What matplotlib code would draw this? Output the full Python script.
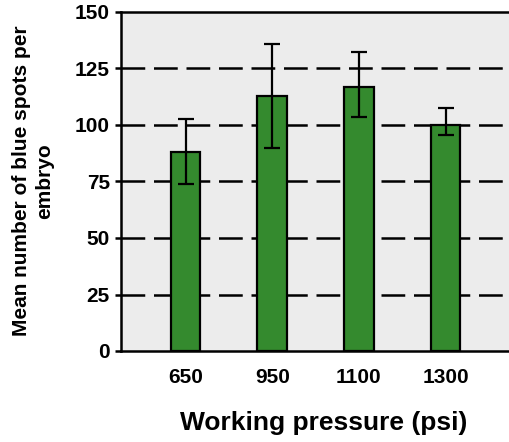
#! /usr/bin/env python3
# Bar chart: mean blue spots per embryo vs working pressure, with error bars
import numpy as np
import matplotlib
matplotlib.use('Agg')
import matplotlib.pyplot as plt

pressures = ['650', '950', '1100', '1300']
mean_spots = [88, 113, 117, 100]
err_upper = [102.5, 136, 132.5, 107.5]
err_lower = [74, 90, 103.5, 95.5]
y_ticks = [0, 25, 50, 75, 100, 125, 150]

plt.rcParams['font.family'] = ['Liberation Sans', 'DejaVu Sans']
plt.rcParams['font.weight'] = 'bold'

W, H = 509, 442
fig = plt.figure(figsize=(W / 100, H / 100), dpi=100)
# axes runs off the right edge of the picture (reference is cropped there)
ax = fig.add_axes([121 / W, (H - 351) / H, (545 - 121) / W, (351 - 12) / H])
ax.set_facecolor('#ececec')

x = np.arange(len(pressures))
means = np.array(mean_spots)
yerr = [means - np.array(err_lower), np.array(err_upper) - means]

ax.bar(x, means, width=0.34, color='#348a2e', edgecolor='black',
       linewidth=1.6, zorder=3)
ax.errorbar(x, means, yerr=yerr, fmt='none', ecolor='black',
            elinewidth=1.6, capsize=5.8, capthick=1.6, zorder=4)

ax.set_ylim(0, 150)
ax.set_xlim(-0.744, (545 - 185.5) / 86.7)
ax.set_yticks(y_ticks)
ax.set_xticks(x)
ax.set_xticklabels(pressures)
for t in [25, 50, 75, 100, 125]:
    ax.axhline(t, color='black', linewidth=1.8, dashes=(9.5, 3.5), zorder=1)

for side in ['left', 'bottom', 'top']:
    ax.spines[side].set_linewidth(1.8)
ax.spines['right'].set_visible(False)
ax.tick_params(axis='y', length=4, width=1.8, direction='out', pad=4,
               labelsize=15)
ax.tick_params(axis='x', length=0, pad=12, labelsize=15)

fig.text(33 / W, (H - 181) / H, 'Mean number of blue spots per\nembryo',
         rotation=90, ha='center', va='center', fontsize=15,
         fontweight='bold', linespacing=1.3)
fig.text(324 / W, (H - 430) / H, 'Working pressure (psi)', ha='center',
         va='baseline', fontsize=19, fontweight='bold')

fig.savefig('out.png', dpi=100)
